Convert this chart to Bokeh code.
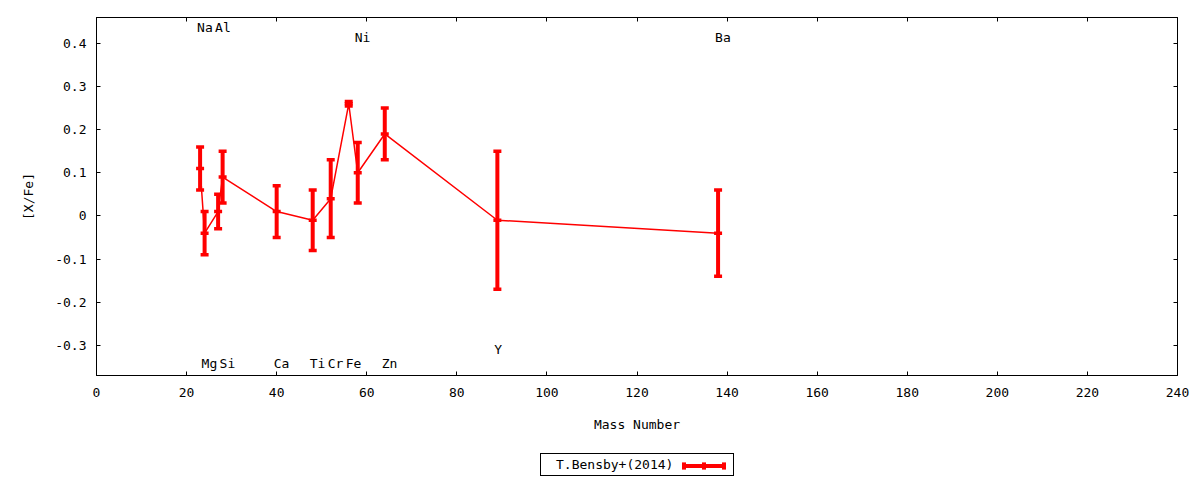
from bokeh.plotting import figure
from bokeh.layouts import column
from bokeh.models import (Range1d, LinearAxis, FixedTicker, CustomJSTickFormatter,
                          Legend, LegendItem, ColumnDataSource)
from bokeh.core.properties import value
from bokeh.embed import file_html
from bokeh.resources import INLINE

# ---- data ----
elements = ["Na", "Mg", "Al", "Si", "Ca", "Ti", "Cr", "Fe", "Ni", "Zn", "Y", "Ba"]
mass = [23, 24, 27, 28, 40, 48, 52, 56, 58, 64, 89, 138]
xfe = [0.11, -0.04, 0.01, 0.09, 0.01, -0.01, 0.04, 0.26, 0.10, 0.19, -0.01, -0.04]
err = [0.05, 0.05, 0.04, 0.06, 0.06, 0.07, 0.09, 0.005, 0.07, 0.06, 0.16, 0.10]
label_y = [0.437, -0.342, 0.437, -0.342, -0.342, -0.342, -0.342, -0.342, 0.413, -0.342, -0.309, 0.413]
x_ticks = [0, 20, 40, 60, 80, 100, 120, 140, 160, 180, 200, 220, 240]
y_ticks = [-0.3, -0.2, -0.1, 0, 0.1, 0.2, 0.3, 0.4]
series_label = "T.Bensby+(2014)"
x_title = "Mass Number"
y_title = "[X/Fe]"

FONT = "DejaVu Sans Mono"
FS = "13px"
RED = "#ff0000"

lo = [v - e for v, e in zip(xfe, err)]
hi = [v + e for v, e in zip(xfe, err)]
src = ColumnDataSource(dict(mass=mass, xfe=xfe, lo=lo, hi=hi, el=elements, ly=label_y))

p = figure(width=1200, height=440, output_backend="svg", toolbar_location=None,
           x_range=Range1d(0, 240), y_range=Range1d(-0.37, 0.46),
           min_border_left=96, min_border_right=23, min_border_top=17, min_border_bottom=65,
           x_axis_label=x_title, y_axis_label=y_title)
p.xgrid.visible = False
p.ygrid.visible = False
p.outline_line_color = "black"
p.outline_line_width = 1
p.outline_line_alpha = 1
p.background_fill_color = "white"
p.border_fill_color = "white"

p.xaxis[0].ticker = FixedTicker(ticks=x_ticks)
p.yaxis[0].ticker = FixedTicker(ticks=y_ticks)
p.yaxis[0].formatter = CustomJSTickFormatter(code="return String(tick)")
for ax in (p.xaxis[0], p.yaxis[0]):
    ax.major_tick_in = 4
    ax.major_tick_out = 0
    ax.minor_tick_in = 0
    ax.minor_tick_out = 0
    ax.axis_line_color = "black"
    ax.major_tick_line_color = "black"
    ax.major_label_text_font = FONT
    ax.major_label_text_font_size = FS
    ax.major_label_text_color = "black"
    ax.axis_label_text_font = FONT
    ax.axis_label_text_font_size = FS
    ax.axis_label_text_font_style = "normal"
    ax.axis_label_text_color = "black"
p.xaxis[0].major_label_standoff = 12
p.xaxis[0].axis_label_standoff = 17
p.yaxis[0].major_label_standoff = 10
p.yaxis[0].axis_label_standoff = 16

for ticks, place in ((x_ticks, "above"), (y_ticks, "right")):
    ax = LinearAxis(ticker=FixedTicker(ticks=ticks),
                    formatter=CustomJSTickFormatter(code="return ''"),
                    major_tick_in=4, major_tick_out=0, minor_tick_in=0, minor_tick_out=0,
                    major_label_standoff=0, major_label_text_font_size="0px",
                    axis_line_color="black")
    p.add_layout(ax, place)

# series
p.line("mass", "xfe", source=src, line_color=RED, line_width=1.5)
p.segment(x0="mass", y0="lo", x1="mass", y1="hi", source=src, line_color=RED, line_width=4)
for col in ("lo", "hi", "xfe"):
    p.scatter("mass", col, source=src, marker="dash", size=8, line_color=RED, line_width=3.5)

# element labels
p.text("mass", "ly", text="el", source=src, text_font=value(FONT), text_font_size=value(FS),
       text_align="left", text_baseline="alphabetic", x_offset=-3, text_color="black")

# ---- legend strip below the plot (gnuplot style: text left, sample right) ----
lf = figure(width=1200, height=40, output_backend="svg", toolbar_location=None,
            x_range=Range1d(0, 1), y_range=Range1d(0, 1),
            x_axis_type=None, y_axis_type=None,
            min_border_left=0, min_border_right=0, min_border_top=0, min_border_bottom=0)
lf.xgrid.visible = False
lf.ygrid.visible = False
lf.outline_line_color = None
lf.background_fill_color = "white"
lf.border_fill_color = "white"

# legend-only renderers: one off-range point each so the legend draws their glyph
dummy = lf.line(x=[-5, -4], y=[-5, -5], line_alpha=0)
sample_line = lf.line(x=[-5, -4], y=[-5, -5], line_color=RED, line_width=4)
cap_r = lf.quad(left=[-5], right=[-4], top=[-5], bottom=[-6], fill_color=RED, line_color=None)

legA = Legend(items=[LegendItem(label=value(series_label), renderers=[dummy])],
              location=(444, 4), padding=0, spacing=0, margin=0,
              glyph_width=15, glyph_height=21, label_height=21, label_width=177, label_standoff=0,
              border_line_color="black", border_line_width=1, border_line_alpha=1,
              background_fill_color="white", background_fill_alpha=1,
              label_text_font=FONT, label_text_font_size=FS, label_text_color="black")
legB = Legend(items=[LegendItem(label=value(" "), renderers=[sample_line])],
              location=(586, 4), padding=0, spacing=0, margin=0,
              glyph_width=44, glyph_height=21, label_height=21, label_width=0, label_standoff=0,
              label_text_font_size="1px", label_text_alpha=0,
              border_line_color=None, background_fill_alpha=0)
legC = Legend(items=[LegendItem(label=value(" "), renderers=[cap_r]) for _ in range(3)],
              orientation="horizontal", location=(585, 10), padding=0, spacing=15, margin=0,
              glyph_width=5, glyph_height=9, label_height=9, label_width=0, label_standoff=0,
              label_text_font_size="1px", label_text_alpha=0,
              border_line_color=None, background_fill_alpha=0)
for lg in (legA, legB, legC):
    lf.add_layout(lg)

layout = column(p, lf, spacing=0)
open("out.html", "w").write(file_html(layout, INLINE))
